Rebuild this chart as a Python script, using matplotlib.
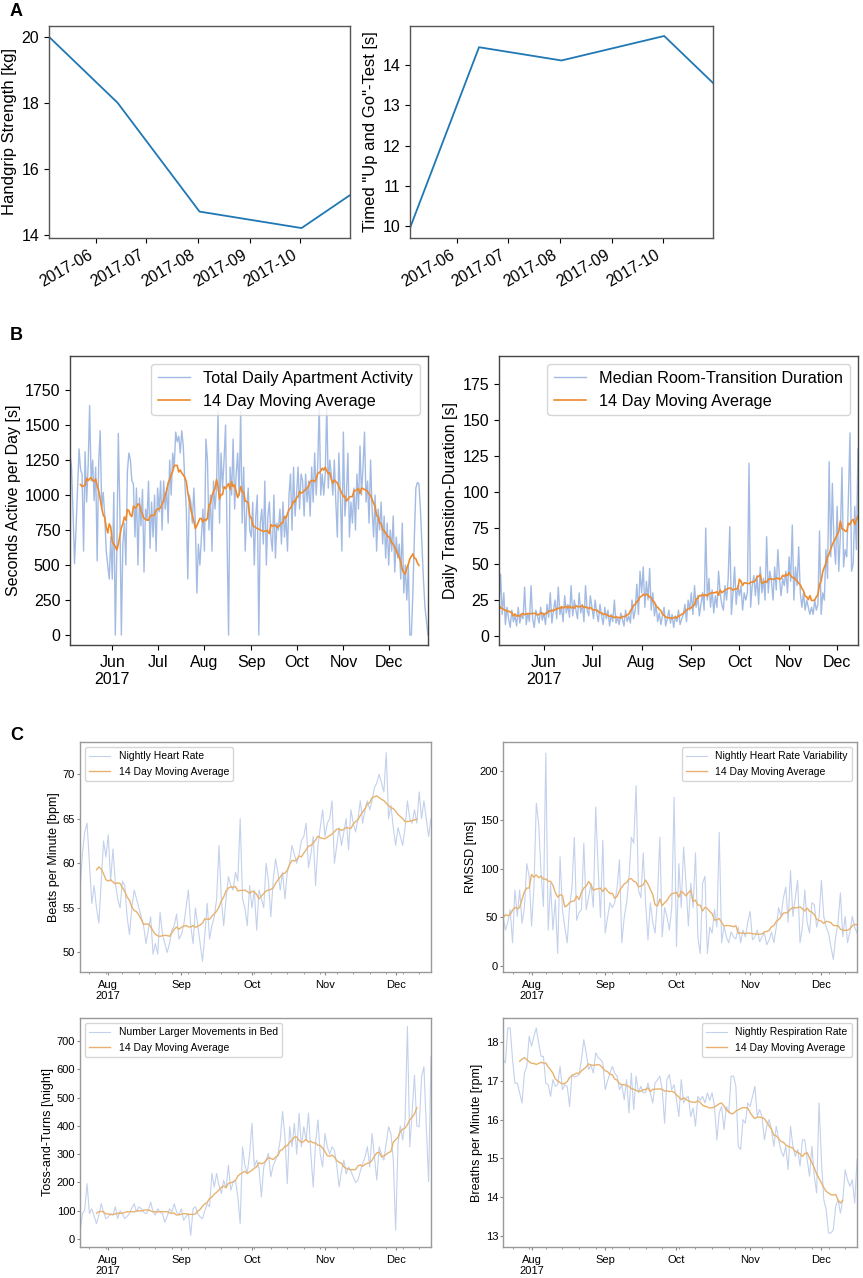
import numpy as np
import pandas as pd
import matplotlib
matplotlib.use('Agg')
import matplotlib.pyplot as plt

plt.rcParams['font.family'] = ['Liberation Sans', 'DejaVu Sans']

################################
# data
################################

# A: clinical tests
test_dates = ['2017-05-04', '2017-06-14', '2017-08-02', '2017-10-02', '2017-10-31']
handgrip = [20.0, 18.0, 14.7, 14.2, 15.2]
tug_test = [9.95, 14.45, 14.12, 14.73, 13.56]

# B: apartment sensors, daily from 2017-05-04
b_start = '2017-05-04'
activity = [
    1290, 1200, 880, 510, 760, 1050, 1330, 1180, 1150, 600, 1310, 950, 1200, 1640,
    1100, 1250, 960, 1200, 530, 1230, 1460, 900, 1020, 850, 600, 500, 400, 700,
    400, 1020, 0, 600, 1440, 900, 0, 650, 800, 500, 1170, 1300, 1250, 1100,
    1080, 700, 1050, 500, 980, 780, 1040, 450, 900, 820, 1100, 620, 950, 700,
    1000, 600, 1050, 880, 1100, 750, 1100, 900, 1050, 800, 1250, 1000, 1300, 1200,
    1450, 1380, 1420, 1300, 1460, 1350, 1100, 900, 400, 1000, 950, 800, 1050, 800,
    300, 650, 500, 700, 900, 600, 1400, 1250, 750, 1000, 600, 1100, 900, 1050,
    1600, 800, 1300, 1050, 1250, 1500, 700, 0, 1200, 1000, 1400, 900, 1150, 1300,
    1000, 1600, 800, 1200, 600, 900, 1050, 750, 700, 950, 500, 850, 1000, 0,
    800, 900, 650, 1100, 500, 850, 950, 700, 600, 1000, 550, 800, 750, 900,
    650, 950, 700, 850, 600, 1000, 1150, 750, 1200, 850, 1000, 1200, 900, 1150,
    1100, 850, 1150, 950, 1100, 850, 1200, 950, 1300, 1000, 1200, 1650, 1000, 1150,
    1000, 1150, 1640, 1050, 1250, 1150, 1000, 1250, 950, 700, 1300, 1000, 600, 1450,
    850, 1000, 1300, 700, 950, 800, 1050, 750, 1150, 900, 1350, 1000, 1200, 1450,
    950, 1100, 800, 1250, 900, 700, 1000, 600, 900, 750, 950, 650, 850, 550,
    800, 500, 750, 600, 850, 450, 700, 550, 650, 400, 800, 300, 500, 250,
    500, 0, 0, 300, 700, 1050, 1090, 1080, 900, 650, 400, 200, 100, 0,
]
transition = [
    22, 43, 15, 30, 8, 20, 12, 6, 18, 10, 14, 7, 20, 9, 15,
    12, 34, 8, 16, 10, 35, 12, 6, 18, 14, 9, 20, 11, 16, 8,
    22, 13, 30, 9, 18, 25, 12, 34, 15, 20, 10, 28, 16, 22, 13,
    35, 14, 25, 18, 12, 30, 16, 22, 10, 35, 18, 14, 28, 20, 12,
    25, 16, 10, 22, 14, 8, 20, 12, 18, 7, 15, 10, 25, 9, 13,
    8, 16, 12, 7, 18, 10, 14, 9, 25, 12, 18, 36, 15, 45, 30,
    48, 20, 38, 25, 47, 18, 30, 14, 22, 10, 16, 8, 14, 20, 7,
    12, 18, 9, 15, 6, 14, 10, 18, 8, 12, 15, 22, 10, 25, 18,
    30, 15, 35, 20, 28, 14, 22, 30, 18, 75, 25, 40, 20, 32, 16,
    28, 20, 45, 30, 22, 18, 35, 25, 40, 76, 15, 30, 48, 22, 35,
    28, 35, 18, 30, 25, 30, 120, 20, 35, 42, 28, 42, 22, 48, 30,
    40, 25, 69, 30, 45, 38, 25, 48, 32, 60, 40, 28, 40, 35, 45,
    30, 55, 38, 77, 25, 48, 35, 62, 30, 20, 30, 18, 25, 20, 15,
    20, 15, 25, 18, 22, 73, 15, 30, 25, 60, 40, 121, 55, 106, 65,
    50, 90, 45, 70, 117, 48, 60, 55, 95, 141, 45, 50, 90, 60, 130,
]

# C: bed sensor, nightly from 2017-07-20
c_start = '2017-07-20'
heart_rate = [
    57, 61, 63.5, 64.5, 60, 55.5, 57.5, 55, 53.3, 58,
    62.5, 60.7, 63.2, 58, 61.6, 57.8, 56, 55, 58, 57.5,
    54, 52, 55, 57, 56, 55, 54, 53, 51, 52.5,
    54, 49.8, 51, 49.8, 54.5, 52, 51, 50, 51, 52.5,
    53, 54.3, 51.5, 52, 53, 55, 57, 53, 51, 55,
    53, 51, 49, 52, 55.5, 51.5, 53, 54, 56, 62,
    56, 53, 56, 58.5, 57.5, 57, 59, 58, 65, 56,
    55, 53, 57.5, 55, 57, 52.5, 57, 56, 55, 60,
    58, 54, 58, 60.5, 59, 57, 59, 56, 59, 60,
    62, 61, 60, 61, 62.5, 63, 64.5, 59.5, 61, 63,
    57.5, 62, 64, 66, 63, 64.5, 65, 67, 60, 62,
    64, 62, 63.5, 65, 61.5, 66, 64.5, 63.5, 65, 67,
    64.5, 66, 67, 66, 67, 68.5, 69, 70, 69, 68,
    72.4, 65, 66.5, 64, 62, 64, 63, 62, 64, 67,
    65, 64.5, 66, 64.5, 68, 65, 67, 65, 63, 65,
]
hrv = [
    51, 37, 45, 58, 24, 78, 51, 78, 44, 60,
    105, 92, 41, 80, 167, 146, 95, 61, 218, 37,
    85, 37, 68, 13, 112, 58, 40, 24, 61, 80,
    132, 47, 55, 58, 126, 58, 70, 85, 60, 163,
    102, 50, 129, 34, 50, 65, 60, 65, 80, 109,
    24, 50, 65, 90, 132, 126, 185, 78, 70, 116,
    65, 27, 65, 45, 34, 70, 132, 30, 60, 51,
    37, 60, 173, 20, 105, 60, 122, 85, 41, 85,
    60, 116, 30, 13, 85, 92, 13, 40, 34, 58,
    40, 137, 24, 41, 30, 24, 35, 30, 28, 40,
    24, 37, 30, 45, 56, 27, 30, 37, 25, 30,
    34, 22, 27, 35, 24, 40, 60, 51, 70, 81,
    45, 98, 51, 70, 88, 24, 40, 78, 45, 34,
    65, 63, 40, 50, 88, 51, 40, 34, 20, 7,
    30, 45, 75, 30, 51, 24, 35, 51, 40, 34,
]
toss_turns = [
    19, 90, 102, 196, 90, 107, 80, 54, 84, 125,
    95, 72, 78, 90, 85, 114, 72, 100, 90, 72,
    80, 90, 110, 125, 96, 114, 107, 95, 90, 100,
    131, 96, 85, 107, 95, 90, 60, 80, 107, 95,
    125, 96, 85, 107, 66, 80, 90, 13, 107, 114,
    90, 78, 72, 100, 125, 114, 232, 184, 232, 190,
    161, 208, 180, 261, 172, 200, 208, 150, 54, 326,
    260, 232, 300, 409, 255, 279, 250, 149, 255, 280,
    303, 220, 260, 279, 300, 350, 451, 362, 196, 397,
    326, 409, 300, 445, 326, 397, 350, 445, 300, 184,
    340, 421, 300, 255, 373, 326, 300, 326, 314, 260,
    184, 240, 279, 230, 255, 240, 220, 200, 208, 240,
    267, 290, 326, 255, 373, 290, 208, 326, 300, 279,
    340, 397, 373, 280, 31, 338, 400, 350, 420, 752,
    326, 450, 580, 400, 397, 574, 610, 400, 202, 645,
]
respiration = [
    17.55, 17.46, 18.36, 18.36, 17.55, 16.94, 16.94, 16.69, 16.43, 17.2,
    17.37, 18.15, 17.89, 18.15, 18.36, 17.97, 17.63, 17.63, 16.94, 16.9,
    16.6, 17.03, 16.86, 16.9, 17.37, 16.77, 16.9, 16.86, 16.34, 17.16,
    17.1, 17.12, 17.16, 17.55, 18.06, 17.72, 17.29, 17.4, 17.2, 17.72,
    17.6, 17.55, 17.46, 16.77, 17.0, 17.2, 17.37, 17.2, 17.12, 16.77,
    16.9, 16.51, 17.03, 16.17, 17.2, 16.26, 17.12, 16.69, 16.86, 16.69,
    16.7, 16.94, 16.69, 16.43, 16.94, 17.03, 17.12, 16.77, 15.91, 17.03,
    17.16, 16.77, 16.9, 16.51, 16.08, 17.03, 16.43, 16.56, 16.6, 16.08,
    16.3, 15.83, 16.6, 16.5, 16.6, 16.43, 16.69, 16.5, 16.69, 16.34,
    15.48, 16.17, 16.34, 15.74, 16.34, 16.17, 17.12, 17.12, 16.86, 15.31,
    15.23, 16.0, 15.91, 16.43, 16.34, 16.6, 16.86, 16.08, 16.26, 16.08,
    15.48, 15.83, 16.0, 15.74, 15.31, 15.83, 15.48, 15.2, 15.05, 15.31,
    14.71, 15.83, 15.31, 15.05, 15.23, 14.8, 15.48, 15.48, 14.97, 14.54,
    15.31, 14.54, 14.11, 16.43, 14.97, 13.94, 13.68, 13.08, 13.08, 13.16,
    13.76, 13.94, 13.59, 13.94, 14.71, 14.45, 14.28, 14.45, 13.85, 14.97,
]

################################
# styles
################################

B_RAW = '#a3bbe3'
B_AVG = '#ee8a2e'
C_RAW = '#c3d1ec'
C_AVG = '#e8b26e'


def month_ticks(ax, dates, with_year=True):
    months = pd.date_range(dates[0], dates[-1], freq='MS')
    labels = [m.strftime('%b') for m in months]
    if with_year:
        labels[0] = labels[0] + '\n' + str(months[0].year)
    ax.set_xticks(months)
    ax.set_xticklabels(labels)
    ax.set_xlim(dates[0], dates[-1])


def frame(ax, color):
    for sp in ax.spines.values():
        sp.set_color(color)
        sp.set_linewidth(1.0)


def daily_panel(ax, start, values, label, ylabel, ylim, raw_c, avg_c,
                fs, lfs, loc, lw_raw, lw_avg, min_periods=None, labelpad=4):
    dates = pd.date_range(start, periods=len(values), freq='D')
    s = pd.Series(values, index=dates, dtype=float)
    avg = s.rolling(14, center=True, min_periods=min_periods).mean()
    ax.plot(dates, s.values, color=raw_c, lw=lw_raw, label=label)
    ax.plot(dates, avg.values, color=avg_c, lw=lw_avg, label='14 Day Moving Average')
    ax.set_ylim(*ylim)
    ax.set_ylabel(ylabel, fontsize=fs, labelpad=labelpad)
    month_ticks(ax, dates)
    ax.legend(loc=loc, fontsize=lfs)
    return dates


################################
# figure
################################

fig = plt.figure(figsize=(8.63, 12.78), dpi=100)

# A
a_dates = pd.to_datetime(test_dates)
axA1 = fig.add_axes([0.0568, 0.8138, 0.3488, 0.1659])
axA2 = fig.add_axes([0.4751, 0.8138, 0.3511, 0.1659])
for ax, vals, ylab, ylim in [(axA1, handgrip, 'Handgrip Strength [kg]', (13.9, 20.33)),
                             (axA2, tug_test, 'Timed "Up and Go"-Test [s]', (9.7, 14.98))]:
    ax.plot(a_dates, vals, color='#1f77b4', lw=1.3)
    ax.set_xlim(a_dates[0], a_dates[-1])
    ax.set_ylim(*ylim)
    months = pd.date_range(a_dates[0], a_dates[-1], freq='MS')
    ax.set_xticks(months)
    ax.set_xticklabels([m.strftime('%Y-%m') for m in months], rotation=30, ha='right')
    ax.set_ylabel(ylab, fontsize=12, labelpad=3)
    ax.tick_params(labelsize=11.5)
    frame(ax, '#555555')
axA1.set_yticks([14, 16, 18, 20])
axA2.set_yticks([10, 11, 12, 13, 14])

# B
axB1 = fig.add_axes([0.0811, 0.4953, 0.4148, 0.2261])
axB2 = fig.add_axes([0.5782, 0.4953, 0.4160, 0.2261])
daily_panel(axB1, b_start, activity, 'Total Daily Apartment Activity',
            'Seconds Active per Day [s]', (-71, 1993), B_RAW, B_AVG, 11.5, 11.7,
            'upper right', 1.0, 1.2, labelpad=3)
axB1.set_yticks(range(0, 1751, 250))
daily_panel(axB2, b_start, transition, 'Median Room-Transition Duration',
            'Daily Transition-Duration [s]', (-6.2, 194.4), B_RAW, B_AVG, 11.5, 11.7,
            'upper right', 1.0, 1.2, min_periods=1, labelpad=3)
axB2.set_yticks(range(0, 176, 25))
for ax in (axB1, axB2):
    ax.tick_params(labelsize=11.5)
    frame(ax, '#444444')

# C
axC1 = fig.add_axes([0.0927, 0.2394, 0.4067, 0.1800])
axC2 = fig.add_axes([0.5829, 0.2394, 0.4102, 0.1800])
axC3 = fig.add_axes([0.0927, 0.0243, 0.4067, 0.1792])
axC4 = fig.add_axes([0.5829, 0.0243, 0.4102, 0.1792])
daily_panel(axC1, c_start, heart_rate, 'Nightly Heart Rate', 'Beats per Minute [bpm]',
            (47.8, 73.6), C_RAW, C_AVG, 9, 7.5, 'upper left', 0.8, 1.0, labelpad=2)
daily_panel(axC2, c_start, hrv, 'Nightly Heart Rate Variability', 'RMSSD [ms]',
            (-6, 229.6), C_RAW, C_AVG, 9, 7.5, 'upper right', 0.8, 1.0,
            min_periods=1, labelpad=2)
daily_panel(axC3, c_start, toss_turns, 'Number Larger Movements in Bed',
            'Toss-and-Turns [\\night]', (-28, 782), C_RAW, C_AVG, 9, 7.5,
            'upper left', 0.8, 1.0, labelpad=2)
daily_panel(axC4, c_start, respiration, 'Nightly Respiration Rate',
            'Breaths per Minute [rpm]', (12.72, 18.62), C_RAW, C_AVG, 9, 7.5,
            'upper right', 0.8, 1.0, labelpad=2)
axC1.set_yticks([50, 55, 60, 65, 70])
axC2.set_yticks([0, 50, 100, 150, 200])
axC3.set_yticks(range(0, 701, 100))
axC4.set_yticks([13, 14, 15, 16, 17, 18])
for ax in (axC1, axC2, axC3, axC4):
    ax.tick_params(labelsize=8, color='#888888', length=2)
    ax.tick_params(axis='y', pad=1.5)
    ax.xaxis.set_minor_locator(matplotlib.dates.WeekdayLocator(byweekday=0))
    ax.tick_params(axis='x', which='minor', color='#888888', length=1.5)
    frame(ax, '#999999')

# panel letters
fig.text(10 / 863, 1 - 12 / 1278, 'A', fontsize=13, fontweight='bold', va='center')
fig.text(10 / 863, 1 - 335 / 1278, 'B', fontsize=13, fontweight='bold', va='center')
fig.text(10 / 863, 1 - 736 / 1278, 'C', fontsize=13, fontweight='bold', va='center')

fig.savefig('out.png', dpi=100)
